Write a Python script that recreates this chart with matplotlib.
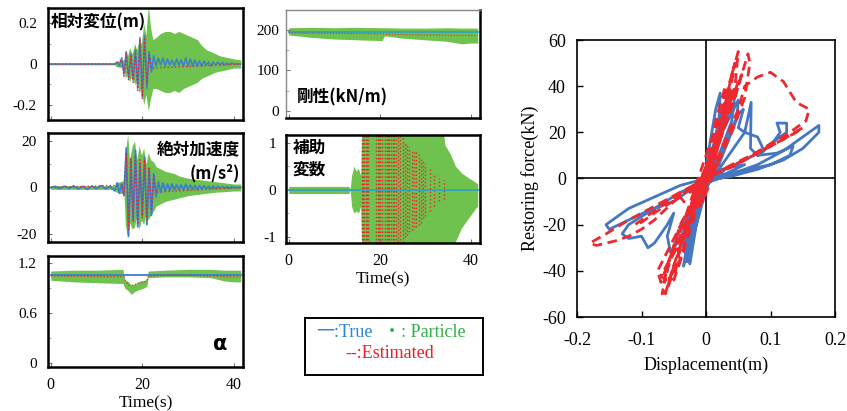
import numpy as np
import matplotlib
matplotlib.use("Agg")
import matplotlib.pyplot as plt
from matplotlib.ticker import MultipleLocator

W, H = 847, 411
SERIF = ["Liberation Serif", "DejaVu Serif"]
JP = ["Noto Sans CJK JP", "DejaVu Sans"]

C_TRUE = "#3a80cf"
C_PART = "#6fc24e"
C_EST = "#e8262b"
C_HB = "#4677c3"
C_HR = "#ee2a30"

# ---------------- data: relative displacement (m) ----------------
disp_true_t = [0, 14.0, 14.5, 15.0, 15.5, 16.0, 16.5, 17.0, 17.5, 18.0, 18.5, 19.0, 19.5, 20.0, 20.5,
               21.0, 21.5, 22.0, 22.5, 23.0, 23.5, 24.0, 24.5, 25.0, 25.5, 26.0, 26.5, 27.0, 27.5,
               28.0, 28.5, 29.0, 29.5, 30.0, 30.5, 31.0, 31.5, 32.0, 32.5, 33.0, 33.5, 34.0, 34.5,
               35.0, 35.5, 36.0, 36.5, 37.0, 37.5, 38.0, 38.5, 39.0, 39.5, 40.0, 41.5]
disp_true = [0, 0, 0.01, -0.01, 0.03, -0.05, 0.06, -0.07, 0.05, -0.08, 0.07, -0.12, 0.13, -0.16, 0.14,
             -0.12, 0.06, -0.04, 0.04, -0.01, 0.03, -0.005, 0.03, -0.01, 0.025, -0.005, 0.02, -0.01, 0.025,
             -0.005, 0.02, -0.01, 0.03, -0.01, 0.025, -0.01, 0.02, -0.01, 0.015, -0.01, 0.015, -0.005, 0.01,
             -0.01, 0.01, -0.005, 0.01, -0.005, 0.008, -0.005, 0.006, -0.004, 0.005, 0.0, 0.0]
disp_est_t = [0, 14.0, 15.5, 16.0, 16.5, 17.0, 17.5, 18.0, 18.5, 19.0, 19.5, 20.0, 20.5, 21.0, 21.5, 22.0, 41.5]
disp_est = [0, 0, 0.02, -0.06, 0.05, -0.08, 0.04, -0.09, 0.06, -0.13, 0.12, -0.17, 0.13, -0.1, 0.05, -0.02, 0.0]
disp_env_t = [0, 14, 14.2, 16, 16.3, 16.8, 17.2, 17.8, 18.3, 18.8, 19.3, 19.8, 20.3, 20.8, 21.3, 21.8,
              22.3, 23, 24, 25, 26, 27, 28, 29, 30, 31, 32, 33, 34, 35, 36, 37, 38, 39, 40, 41.5]
disp_env_hi = [0.004, 0.004, 0.012, 0.02, 0.07, 0.04, 0.08, 0.05, 0.10, 0.07, 0.12, 0.1, 0.2, 0.14, 0.29, 0.18,
               0.12, 0.13, 0.15, 0.16, 0.16, 0.15, 0.16, 0.15, 0.14, 0.13, 0.12, 0.09, 0.07, 0.06, 0.05, 0.04,
               0.035, 0.03, 0.025, 0.02]
disp_env_lo = [-0.004, -0.004, -0.012, -0.02, -0.07, -0.04, -0.09, -0.05, -0.1, -0.08, -0.14, -0.12, -0.2, -0.15,
               -0.23, -0.17, -0.12, -0.12, -0.13, -0.14, -0.14, -0.13, -0.14, -0.12, -0.11, -0.1, -0.09, -0.07,
               -0.06, -0.05, -0.04, -0.035, -0.03, -0.025, -0.02, -0.02]

# ---------------- data: absolute acceleration (m/s2) ----------------
acc_true_t = [0, 1, 2, 3, 4, 5, 6, 7, 8, 9, 10, 11, 12, 13, 14.0, 14.5, 15.0, 15.5, 16.0, 16.5, 17.0, 17.5,
              18.0, 18.5, 19.0, 19.5, 20.0, 20.5, 21.0, 21.5, 22.0, 22.5, 23.0, 23.5, 24.0, 24.5, 25.0, 25.5,
              26.0, 26.5, 27.0, 27.5, 28.0, 28.5, 29.0, 29.5, 30.0, 30.5, 31.0, 31.5, 32.0, 32.5, 33.0, 33.5,
              34.0, 34.5, 35.0, 35.5, 36.0, 36.5, 37.0, 37.5, 38.0, 38.5, 39.0, 39.5, 40.0, 41.5]
acc_true = [0, 0.5, -0.5, 0.6, -0.4, 0.7, -0.6, 0.5, -0.8, 0.6, -0.5, 0.8, -0.6, 0.5, -1.5, 2.0, -2.5, 1.5,
            -3, 17, -21, 12, -14, 16, -17, 10, -12, 13, -16, 8, -12, 6, -4, 2.5, -2, 2, -1.5, 1.5,
            -1.2, 1.5, -1, 1.2, -1, 1.2, -1, 1.4, -1, 1.0, -0.8, 0.9, -0.8, 0.8, -0.7, 0.8,
            -0.6, 0.6, -0.5, 0.6, -0.5, 0.5, -0.4, 0.4, -0.4, 0.4, -0.3, 0.3, 0, 0]
acc_est_t = [0, 15.5, 16.0, 16.5, 17.0, 17.5, 18.0, 18.5, 19.0, 19.5, 20.0, 20.5, 21.0, 21.5, 22.0, 22.5, 23.0, 41.5]
acc_est = [0, 1, -4, 15, -18, 13, -15, 14, -16, 12, -13, 12, -14, 9, -10, 5, -2, 0]
acc_env_t = [0, 14, 14.3, 16, 16.3, 16.8, 17.2, 17.8, 18.3, 18.8, 19.3, 19.8, 20.3, 20.8, 21.3, 21.8,
             22.5, 23, 24, 25, 26, 27, 28, 30, 32, 34, 36, 38, 40, 41.5]
acc_env_hi = [0.8, 0.8, 2, 3, 15, 23, 12, 18, 20, 12, 18, 14, 17, 10, 15, 12, 11, 9, 8, 7, 6.5, 6, 5, 4,
              3.5, 3, 2.5, 2, 1.5, 1.5]
acc_env_lo = [-0.8, -0.8, -2, -3, -16, -22, -15, -18, -17, -12, -18, -14, -16, -11, -14, -12, -10, -8, -7,
              -6, -5.5, -5, -4.5, -3.5, -3, -2.5, -2, -1.8, -1.5, -1.5]

# ---------------- data: alpha ----------------
alpha_true_t = [0, 41.5]
alpha_true = [1.05, 1.05]
alpha_est_t = [0, 16, 16.3, 17, 18, 19, 20, 21, 21.3, 25, 30, 35, 40, 41.5]
alpha_est = [1.04, 1.03, 0.98, 0.93, 0.93, 0.95, 0.96, 0.98, 1.04, 1.05, 1.05, 1.04, 1.03, 1.03]
alpha_env_t = [0, 5, 10, 15.8, 16.1, 17, 17.6, 18.5, 19.5, 20.5, 21, 21.3, 25, 30, 35, 38, 40, 41.5]
alpha_env_hi = [1.10, 1.11, 1.11, 1.12, 1.0, 0.97, 0.93, 0.95, 0.98, 0.99, 1.0, 1.1, 1.11, 1.12, 1.12, 1.11, 1.11, 1.11]
alpha_env_lo = [0.99, 0.97, 0.96, 0.95, 0.90, 0.86, 0.82, 0.86, 0.88, 0.90, 0.92, 1.02, 1.03, 1.03, 1.02, 0.98, 0.97, 0.97]

# ---------------- data: stiffness (kN/m) ----------------
stiff_true_t = [0, 41.5]
stiff_true = [195, 195]
stiff_est_t = [0, 20.5, 21, 30, 41.5]
stiff_est = [193, 191, 190, 188, 187]
stiff_env_t = [0, 5, 10, 15, 20.5, 21, 25, 30, 35, 38, 40, 41.5]
stiff_env_hi = [206, 207, 206, 207, 206, 206, 205, 205, 206, 205, 205, 205]
stiff_env_lo = [188, 182, 178, 176, 174, 186, 180, 176, 172, 166, 168, 168]

# ---------------- data: auxiliary variable ----------------
aux_true_t = [0, 41.5]
aux_true = [0, 0]
aux_env_t = [0, 13.2, 13.5, 13.8, 14.3, 14.8, 15.3, 15.8, 16.0, 34.0, 34.3, 35.5, 36.6, 38, 39.5, 41, 41.5]
aux_env_hi = [0.07, 0.07, 0.01, 0.3, 0.5, 0.4, 0.45, 0.3, 1.2, 1.2, 0.95, 0.75, 0.5, 0.35, 0.25, 0.16, 0.12]
aux_env_lo = [-0.08, -0.08, -0.01, -0.35, -0.5, -0.45, -0.5, -0.35, -1.2, -1.2, -1.2, -1.2, -1.1, -0.8, -0.6, -0.4, -0.35]
aux_est_t = [16.0, 16.3, 16.6, 16.9, 17.2, 17.5, 19.2, 19.5, 19.8, 20.1, 20.4, 21.2, 21.5, 21.8, 22.1, 22.4,
             22.8, 23.2, 23.6, 24.0, 24.5, 25.0, 25.5, 26.0, 26.5, 27.0, 27.5, 28.0, 28.5, 29.0, 29.5,
             30.0, 31.0, 32.0, 33.0, 34.0]
aux_est_amp = [2, 2, 2, 2, 2, 2, 2, 2, 2, 2, 2, 2, 2, 2, 2, 2,
               2, 2, 2, 1.5, 1.3, 1.2, 1.0, 0.95, 0.9, 0.85, 0.8, 0.8, 0.75, 0.7, 0.6,
               0.55, 0.45, 0.35, 0.25, 0.2]

# ---------------- data: hysteresis ----------------
hyst_true_d = [0, 0.01, 0.02, 0.022, 0.015, 0.0, -0.02, -0.03, -0.035, -0.025, -0.01, 0.01, 0.03, 0.045, 0.04,
               0.02, 0.0, -0.02, -0.028, -0.02, 0, 0.03, 0.05, 0.058, 0.05, 0.06, 0.07, 0.069, 0.08, 0.09,
               0.08, 0.06, 0.04, 0.02, 0, -0.04, -0.08, -0.12, -0.155, -0.15, -0.12, -0.09, -0.05, -0.03, 0,
               0.04, 0.08, 0.12, 0.16, 0.175, 0.175, 0.15, 0.12, 0.08, 0.04, 0, -0.04, -0.08, -0.12, -0.13,
               -0.12, -0.1, -0.09, -0.08, -0.06, -0.05, -0.06, -0.055, -0.04, -0.02, 0, 0.03, 0.06, 0.1,
               0.115, 0.11, 0.125, 0.125, 0.1, 0.08, 0.11, 0.135, 0.13, 0.1, 0.05, 0.02, 0, -0.02, -0.03,
               -0.03, -0.02, 0.0, 0.02, 0.03, 0.025, 0.0, -0.025, -0.032, -0.02, 0.0,
               0.02, 0.035, 0.03, 0.01, -0.015, -0.03, -0.025, -0.015, 0.0, 0.025, 0.05, 0.048, 0.02,
               0.0, -0.02, -0.035, -0.03, -0.01, 0.01, 0.04, 0.06, 0.03, 0.0,
               -0.02, -0.045, -0.05, -0.04, -0.02, 0.0, 0.015, 0.03, 0.038, 0.03, 0.01, -0.01, 0.0]
hyst_true_f = [0, 8, 25, 37, 30, 5, -10, -30, -38, -30, -5, 5, 30, 37, 25,
               10, 0, -15, -36, -25, -5, 15, 28, 30, 22, 20, 33, 13, 10, 12,
               18, 20, 12, 4, 0, -3, -8, -13, -20, -22, -18, -14, -10, -6, -2,
               2, 6, 12, 20, 23, 20, 13, 8, 4, 1, -1, -6, -13, -20, -24,
               -26, -25, -30, -28, -20, -15, -25, -32, -30, -15, -3, 4, 8, 14,
               20, 24, 24, 20, 15, 10, 11, 14, 10, 6, 3, 1, -1, -8, -25,
               -36, -20, 0, 15, 30, 20, 0, -20, -34, -20, 0,
               25, 36, 28, 8, -12, -33, -37, -20, -2, 20, 34, 26, 6,
               0, -18, -30, -34, -12, 3, 5, 6, 2, 0,
               -12, -25, -30, -26, -14, -2, 12, 26, 32, 24, 8, -4, 0]
hyst_est_d = [0, 0.02, 0.04, 0.05, 0.045, 0.03, 0.01, -0.01, -0.04, -0.06, -0.068, -0.06, -0.05, -0.03,
              -0.01, 0.02, 0.05, 0.065, 0.068, 0.06, 0.04, 0.02, 0, -0.03, -0.055, -0.065, -0.06, -0.04,
              -0.01, 0.02, 0.05, 0.06, 0.08, 0.1, 0.12, 0.14, 0.16, 0.155, 0.13, 0.1, 0.07, 0.04, 0.0,
              -0.04, -0.08, -0.12, -0.155, -0.18, -0.17, -0.14, -0.12, -0.1, -0.08, -0.05, -0.02, 0.02,
              0.06, 0.1, 0.14, 0.15, 0.12, 0.08, 0.04, 0, -0.03, -0.06, -0.09, -0.11, -0.1, -0.07, -0.04,
              -0.02, -0.045, -0.07, -0.06, -0.04, -0.02, 0, 0.02, 0.03, 0.02, 0, -0.02, 0.01, -0.015,
              0.012, -0.02, 0.015, -0.01, 0.005, -0.025, 0.02, -0.005, 0.0,
              0.03, 0.045, 0.04, 0.02, -0.02, -0.05, -0.063, -0.055, -0.035, 0.0, 0.03, 0.04, 0.03,
              0.0, -0.04, -0.05, -0.04, 0.0, 0.015, 0.03, 0.025, -0.01, -0.03, -0.02, 0.0,
              0.015, 0.03, 0.025, 0.0, -0.03, -0.075, -0.07, -0.05, 0.01, 0.04, 0.055, 0.045,
              0.01, -0.02, 0.012, -0.025, 0.018, -0.015, 0.0]
hyst_est_f = [0, 20, 45, 55, 40, 25, 5, -5, -20, -38, -50, -48, -40, -20,
              -2, 15, 40, 54, 50, 35, 20, 8, 0, -20, -35, -45, -38, -25,
              -5, 10, 30, 40, 44, 46, 42, 33, 30, 25, 20, 15, 10, 6, 0,
              -6, -12, -18, -24, -28, -29, -27, -25, -22, -18, -10, -3, 3,
              8, 14, 20, 22, 17, 11, 5, 0, -5, -10, -16, -20, -19, -13, -8,
              -15, -30, -42, -45, -35, -15, 0, 15, 25, 20, 2, -10, 5, -8,
              6, -4, 10, -12, 3, -6, 8, -10, 0,
              35, 50, 42, 22, -15, -38, -50, -42, -25, 0, 28, 38, 30,
              5, -30, -44, -36, 0, 12, 30, 22, -6, -22, -14, 0,
              25, 40, 30, 10, -15, -40, -45, -30, 12, 35, 45, 35,
              8, -6, 10, -14, 6, -9, 0]

# ---------------- figure ----------------
plt.rcParams["font.family"] = SERIF
fig = plt.figure(figsize=(W / 100, H / 100), dpi=100)


def px_axes(x0, y0, x1, y1):
    return fig.add_axes([x0 / W, 1 - y1 / H, (x1 - x0) / W, (y1 - y0) / H])


def ftext(x, y, s, **kw):
    fig.text(x / W, 1 - y / H, s, **kw)


def style_ts(ax, ylim, yticks, ylabels, minor, show_x):
    ax.set_xlim(-0.6, 42)
    ax.set_ylim(*ylim)
    ax.set_yticks(yticks)
    ax.set_yticklabels(ylabels)
    ax.yaxis.set_minor_locator(MultipleLocator(minor))
    ax.set_xticks([0, 20, 40])
    ax.tick_params(direction="in", labelsize=11, pad=8, length=3, width=0.8, color="#777777")
    ax.tick_params(which="minor", direction="in", length=2, width=0.6, color="#999999")
    ax.tick_params(axis="x", labelbottom=show_x, labelsize=11.5, pad=7)
    for s in ax.spines.values():
        s.set_linewidth(1.8)
        s.set_color("black")


# panel 1: relative displacement
ax1 = px_axes(48, 8, 243, 120)
ax1.fill_between(disp_env_t, disp_env_lo, disp_env_hi, color=C_PART, lw=0)
ax1.plot(disp_true_t, disp_true, color=C_TRUE, lw=1.1)
ax1.plot(disp_est_t, disp_est, color=C_EST, lw=1.0, ls=":")
style_ts(ax1, (-0.275, 0.275), [-0.2, 0, 0.2], ["-0.2", "0", "0.2"], 0.1, False)

# panel 2: absolute acceleration
ax2 = px_axes(48, 133, 243, 242)
ax2.fill_between(acc_env_t, acc_env_lo, acc_env_hi, color=C_PART, lw=0)
ax2.plot(acc_true_t, acc_true, color=C_TRUE, lw=1.3)
ax2.plot(acc_est_t, acc_est, color=C_EST, lw=1.0, ls=":")
style_ts(ax2, (-23.5, 23.5), [-20, 0, 20], ["-20", "0", "20"], 10, False)

# panel 3: alpha
ax3 = px_axes(48, 256, 243, 367)
ax3.fill_between(alpha_env_t, alpha_env_lo, alpha_env_hi, color=C_PART, lw=0)
ax3.plot(alpha_true_t, alpha_true, color=C_TRUE, lw=1.3)
ax3.plot(alpha_est_t, alpha_est, color=C_EST, lw=0.9, ls=":")
style_ts(ax3, (-0.05, 1.28), [0, 0.6, 1.2], ["0", "0.6", "1.2"], 0.3, True)
ax3.set_xlabel("Time(s)", fontsize=12.5, labelpad=2)

# panel 4: stiffness
ax4 = px_axes(286, 10, 480, 118)
ax4.fill_between(stiff_env_t, stiff_env_lo, stiff_env_hi, color=C_PART, lw=0)
ax4.plot(stiff_true_t, stiff_true, color="#2fa3c0", lw=1.3)
ax4.plot(stiff_est_t, stiff_est, color=C_EST, lw=0.8, ls=":")
style_ts(ax4, (-18, 250), [0, 100, 200], ["0", "100", "200"], 50, False)
ax4.tick_params(axis="y", pad=5)
ax4.spines["left"].set_color("#888888")
ax4.spines["left"].set_linewidth(1.0)
ax4.spines["top"].set_color("#888888")
ax4.spines["top"].set_linewidth(1.0)

# panel 5: auxiliary variable
ax5 = px_axes(286, 135, 480, 243)
ax5.fill_between(aux_env_t, aux_env_lo, aux_env_hi, color=C_PART, lw=0)
ax5.vlines(aux_est_t, [-a for a in aux_est_amp], aux_est_amp, colors=C_EST, linestyles=":", lw=1.0)
ax5.plot(aux_true_t, aux_true, color="#2fa3c0", lw=1.3)
style_ts(ax5, (-1.13, 1.16), [-1, 0, 1], ["-1", "0", "1"], 0.5, True)
ax5.tick_params(axis="y", pad=7)
ax5.set_xlabel("Time(s)", fontsize=12.5, labelpad=2)

# Japanese labels
ftext(51, 22, "相対変位(m)", family=JP, weight="bold", fontsize=12, va="center", ha="left")
ftext(240, 149, "絶対加速度", family=JP, weight="bold", fontsize=12, va="center", ha="right")
ftext(240, 173, "(m/s²)", family=JP, weight="bold", fontsize=12, va="center", ha="right")
ftext(297, 97, "剛性(kN/m)", family=JP, weight="bold", fontsize=12, va="center", ha="left")
ftext(293, 148, "補助", family=JP, weight="bold", fontsize=12, va="center", ha="left")
ftext(293, 170, "変数", family=JP, weight="bold", fontsize=12, va="center", ha="left")
ftext(213, 344, "α", family=["DejaVu Sans"], weight="bold", fontsize=15, va="center", ha="left")

# legend box
axl = px_axes(305, 318, 483, 375)
axl.set_xticks([])
axl.set_yticks([])
for s in axl.spines.values():
    s.set_linewidth(1.4)
ftext(316, 332, "一:True", family=["Liberation Serif", "Noto Sans CJK JP"], color="#2f86d6",
      fontsize=13, va="center", ha="left")
ftext(383, 332, "・: Particle", family=["Liberation Serif", "Noto Sans CJK JP"], color="#34b04a",
      fontsize=13, va="center", ha="left")
ftext(345, 354, "--:Estimated", family=SERIF, color="#ee1c25", fontsize=13, va="center", ha="left")

# hysteresis panel
axh = px_axes(577, 40, 835, 317)
axh.axhline(0, color="black", lw=1.2, zorder=1)
axh.axvline(0, color="black", lw=1.2, zorder=1)
axh.plot(hyst_true_d, hyst_true_f, color=C_HB, lw=2.0, zorder=2)
axh.plot(hyst_est_d, hyst_est_f, color=C_HR, lw=2.0, ls=(0, (3.5, 2.0)), zorder=3)
axh.set_xlim(-0.2, 0.2)
axh.set_ylim(-60, 60)
axh.set_xticks([-0.2, -0.1, 0, 0.1, 0.2])
axh.set_xticklabels(["-0.2", "-0.1", "0", "0.1", "0.2"])
axh.set_yticks([-60, -40, -20, 0, 20, 40, 60])
axh.set_yticklabels(["-60", "-40", "-20", "0", "20", "40", "60"])
axh.tick_params(direction="in", labelsize=13, length=4, width=1.0)
axh.tick_params(axis="x", pad=11)
axh.tick_params(axis="y", pad=8)
for s in axh.spines.values():
    s.set_linewidth(1.2)
axh.set_xlabel("Displacement(m)", fontsize=13, labelpad=5)
axh.set_ylabel("Restoring force(kN)", fontsize=13, labelpad=2)

fig.savefig("out.png", dpi=100)
